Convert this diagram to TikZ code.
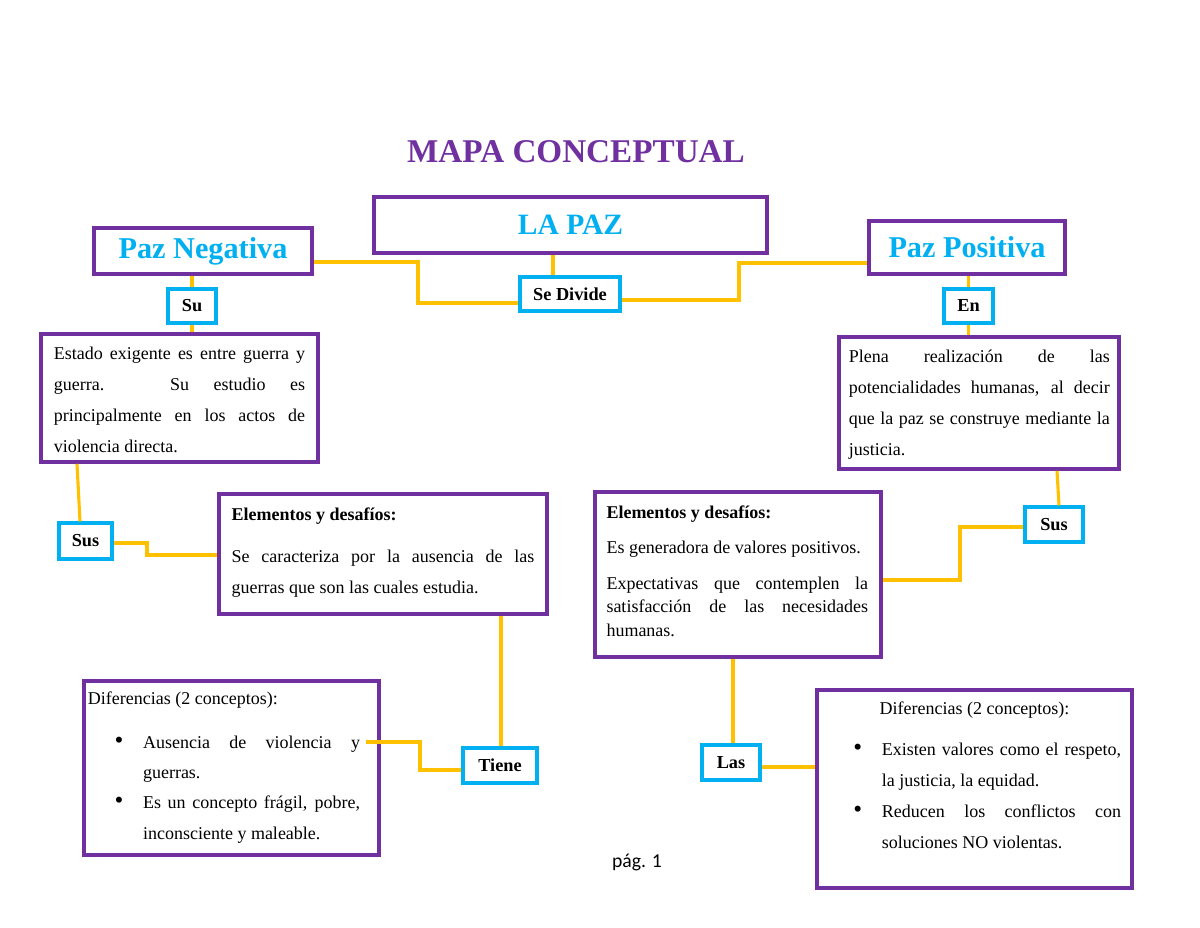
\documentclass[tikz,border=0pt]{standalone}
\usepackage{fontspec}
\setmainfont{Liberation Serif}
\newfontfamily\pagefont{Carlito}
\usepackage{tikz}
\usepackage{xcolor}
\definecolor{mapapurple}{HTML}{7030A0}
\definecolor{mapacyan}{HTML}{00B0F0}
\definecolor{mapayellow}{HTML}{FFC000}
\tikzset{
    purple-box/.style = {draw=mapapurple, fill=white, line width=2.6pt, rectangle, inner sep=0pt},
    heading-box/.style = {purple-box, text=mapacyan, font=\fontsize{21.5}{25}\selectfont\bfseries},
    word-box/.style = {draw=mapacyan, fill=white, line width=2.2pt, rectangle, inner sep=0pt, font=\fontsize{13}{15}\selectfont\bfseries},
    link/.style = {draw=mapayellow, line width=2.2pt},
}

\begin{document}
\begin{tikzpicture}[x=0.025cm, y=-0.025cm]
\useasboundingbox (0,0) rectangle (1200,927);
\node[text=mapapurple, font=\fontsize{23.6}{27}\selectfont\bfseries] (titulo) at (576,152) {MAPA CONCEPTUAL};

\node[heading-box, font=\fontsize{21}{25}\selectfont\bfseries, minimum width=9.825cm, minimum height=1.4cm] (lapaz) at (570.5,225) {LA PAZ};
\node[heading-box, minimum width=5.45cm, minimum height=1.15cm] (pazneg) at (203,251) {Paz Negativa};
\node[heading-box, minimum width=4.9cm, minimum height=1.325cm] (pazpos) at (967,247.5) {Paz Positiva};

\node[word-box, minimum width=2.5cm, minimum height=0.85cm] (sedivide) at (570,294) {Se Divide};
\node[word-box, minimum width=1.2cm, minimum height=0.85cm] (su) at (192,306) {Su};
\node[word-box, minimum width=1.225cm, minimum height=0.85cm] (en) at (968.5,306) {En};
\node[word-box, minimum width=1.325cm, minimum height=0.9cm] (susneg) at (85.5,541) {Sus};
\node[word-box, minimum width=1.45cm, minimum height=0.875cm] (suspos) at (1054,524.5) {Sus};
\node[word-box, minimum width=1.85cm, minimum height=0.875cm] (tiene) at (500,765.5) {Tiene};
\node[word-box, minimum width=1.45cm, minimum height=0.875cm] (las) at (731,762.5) {Las};

\node[purple-box, font=\fontsize{12.8}{22}\selectfont] (estado) at (179.5,398) {\begin{minipage}[c][3.2cm][t]{6.925cm}
    \vspace*{9.5pt}
    \leftskip=9.25pt \rightskip=9.25pt
    Estado exigente es entre guerra y\linebreak guerra. Su estudio es\linebreak principalmente en los actos de\linebreak violencia directa.\par
\end{minipage}};
\node[purple-box, font=\fontsize{12.8}{22}\selectfont] (plena) at (979,403) {\begin{minipage}[c][3.3cm][t]{7cm}
    \vspace*{9.5pt}
    \leftskip=7pt \rightskip=6.5pt
    Plena realización de las\linebreak potencialidades humanas, al decir\linebreak que la paz se construye mediante la\linebreak justicia.\par
\end{minipage}};
\node[purple-box, font=\fontsize{12.8}{22}\selectfont] (elemneg) at (383,554) {\begin{minipage}[c][3cm][t]{8.2cm}
    \vspace*{9.5pt}
    \leftskip=9pt \rightskip=9pt
    \textbf{Elementos y desafíos:}\par
    \vspace{8pt}
    Se caracteriza por la ausencia de las\linebreak guerras que son las cuales estudia.\par
\end{minipage}};
\node[purple-box, font=\fontsize{12.8}{17}\selectfont] (elempos) at (738,574.5) {\begin{minipage}[c][4.125cm][t]{7.15cm}
    \vspace*{10pt}
    \leftskip=8.2pt \rightskip=9.2pt \parskip=8pt
    \textbf{Elementos y desafíos:}\par
    Es generadora de valores positivos.\par
    Expectativas que contemplen la\linebreak satisfacción de las necesidades\linebreak humanas.\par
\end{minipage}};
\node[purple-box, font=\fontsize{12.8}{21.5}\selectfont] (difneg) at (231.5,768) {\begin{minipage}[c][4.35cm][t]{7.375cm}
    \vspace*{8pt}
    {\leftskip=2.8pt Diferencias (2 conceptos):\par}
    \vspace{9.5pt}
    {\leftskip=42pt \rightskip=13.5pt
    \leavevmode\llap{\scalebox{1.4}{\textbullet}\hspace{14pt}}Ausencia de violencia y\linebreak guerras.\par
    \leavevmode\llap{\scalebox{1.4}{\textbullet}\hspace{14pt}}Es un concepto frágil, pobre,\linebreak inconsciente y maleable.\par}
\end{minipage}};
\node[purple-box, font=\fontsize{12.8}{22}\selectfont] (difpos) at (974.5,789) {\begin{minipage}[c][4.95cm][t]{7.875cm}
    \vspace*{8.7pt}
    {\centering Diferencias (2 conceptos):\par}
    \vspace{7pt}
    {\leftskip=46.2pt \rightskip=7.8pt
    \leavevmode\llap{\scalebox{1.4}{\textbullet}\hspace{14pt}}Existen valores como el respeto,\linebreak la justicia, la equidad.\par
    \leavevmode\llap{\scalebox{1.4}{\textbullet}\hspace{14pt}}Reducen los conflictos con\linebreak soluciones NO violentas.\par}
\end{minipage}};

\draw[link] (lapaz.south -| 553,0) -- (sedivide.north -| 553,0);
\draw[link] (pazneg.east |- 0,262) -| (418,303) -- (sedivide.west |- 0,303);
\draw[link] (sedivide.east |- 0,300) -| (739,263) -- (pazpos.west |- 0,263);
\draw[link] (pazneg.south -| su) -- (su.north);
\draw[link] (su.south) -- (su.south |- estado.north);
\draw[link] (pazpos.south -| en) -- (en.north);
\draw[link] (en.south) -- (en.south |- plena.north);
\draw[link] (estado.south -| 77,0) -- (susneg.north -| 80,0);
\draw[link] (susneg.east |- 0,543) -| (147,555) -- (elemneg.west |- 0,555);
\draw[link] (elemneg.south -| 501,0) -- (tiene.north -| 501,0);
\coordinate (ausencia) at (366,742);
\draw[link] (tiene.west |- 0,770) -| (420,742) -- (ausencia);
\draw[link] (plena.south -| 1057,0) -- (suspos.north -| 1059,0);
\draw[link] (suspos.west |- 0,527) -| (960,580) -- (elempos.east |- 0,580);
\draw[link] (elempos.south -| 733,0) -- (las.north -| 733,0);
\draw[link] (las.east |- 0,767) -- (difpos.west |- 0,767);

\node[font=\pagefont\fontsize{14}{16}\selectfont] (pagina) at (637,862) {pág. 1};
\end{tikzpicture}
\end{document}
